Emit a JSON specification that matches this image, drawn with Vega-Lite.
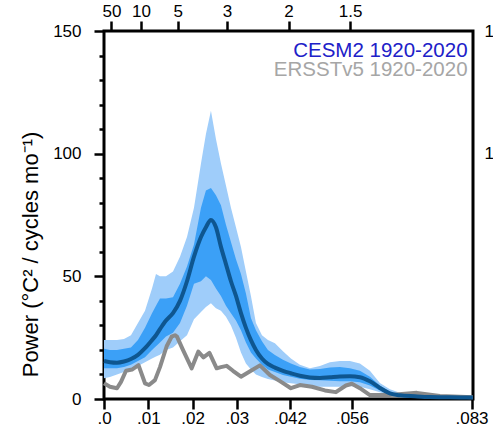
{
  "$schema": "https://vega.github.io/schema/vega-lite/v6.json",
  "width": 369,
  "height": 368,
  "autosize": {"type": "none"},
  "padding": {"left": 104, "top": 31, "right": 20, "bottom": 33},
  "config": {
    "view": {"stroke": "black", "strokeWidth": 3},
    "font": "Liberation Sans",
    "axis": {"domain": false, "grid": false, "tickColor": "black", "tickWidth": 2.5, "labelColor": "black", "labelFontSize": 17, "labelFont": "Liberation Sans", "labelFlush": false, "labelOverlap": false, "labelBound": false}
  },
  "datasets": {
    "cesm": [
      {"f": 0, "hi95": 24, "hi66": 20.5, "mean": 15.5, "lo66": 12.5, "lo95": 8.5},
      {"f": 0.00135, "hi95": 24, "hi66": 20, "mean": 15, "lo66": 12.5, "lo95": 9},
      {"f": 0.00293, "hi95": 24, "hi66": 20, "mean": 14.8, "lo66": 12.5, "lo95": 10},
      {"f": 0.00451, "hi95": 24.5, "hi66": 20.5, "mean": 15.3, "lo66": 13, "lo95": 11},
      {"f": 0.00609, "hi95": 26, "hi66": 21, "mean": 16.3, "lo66": 14, "lo95": 12},
      {"f": 0.00767, "hi95": 31, "hi66": 24, "mean": 18, "lo66": 15.5, "lo95": 13.5},
      {"f": 0.00926, "hi95": 36, "hi66": 29, "mean": 20.7, "lo66": 17, "lo95": 15},
      {"f": 0.01084, "hi95": 45, "hi66": 35, "mean": 24, "lo66": 20, "lo95": 16.5},
      {"f": 0.01174, "hi95": 51, "hi66": 38, "mean": 26, "lo66": 21.5, "lo95": 17.3},
      {"f": 0.01264, "hi95": 50, "hi66": 41, "mean": 28.5, "lo66": 23, "lo95": 18},
      {"f": 0.014, "hi95": 50, "hi66": 41, "mean": 32, "lo66": 25.5, "lo95": 20},
      {"f": 0.01558, "hi95": 52, "hi66": 41.5, "mean": 35, "lo66": 27, "lo95": 21},
      {"f": 0.01716, "hi95": 58, "hi66": 47, "mean": 40, "lo66": 31, "lo95": 23.5},
      {"f": 0.01874, "hi95": 66, "hi66": 54, "mean": 48, "lo66": 38, "lo95": 26},
      {"f": 0.02032, "hi95": 78, "hi66": 63, "mean": 58, "lo66": 47, "lo95": 32.5},
      {"f": 0.0219, "hi95": 96, "hi66": 78, "mean": 66, "lo66": 48, "lo95": 35.5},
      {"f": 0.02302, "hi95": 108, "hi66": 85, "mean": 70, "lo66": 50, "lo95": 37.5},
      {"f": 0.02415, "hi95": 117.5, "hi66": 86, "mean": 73, "lo66": 48.5, "lo95": 39},
      {"f": 0.02528, "hi95": 106, "hi66": 83, "mean": 70, "lo66": 45, "lo95": 37},
      {"f": 0.02641, "hi95": 96, "hi66": 79, "mean": 62, "lo66": 42, "lo95": 36},
      {"f": 0.02754, "hi95": 87, "hi66": 71, "mean": 55, "lo66": 38, "lo95": 33.5},
      {"f": 0.02867, "hi95": 78, "hi66": 64, "mean": 48, "lo66": 35, "lo95": 30},
      {"f": 0.0298, "hi95": 70, "hi66": 57, "mean": 42, "lo66": 32, "lo95": 25},
      {"f": 0.03093, "hi95": 62, "hi66": 51, "mean": 35, "lo66": 28, "lo95": 19},
      {"f": 0.03205, "hi95": 52, "hi66": 43, "mean": 29, "lo66": 23, "lo95": 14.5},
      {"f": 0.03318, "hi95": 42, "hi66": 33, "mean": 24, "lo66": 19, "lo95": 12},
      {"f": 0.03431, "hi95": 31, "hi66": 28, "mean": 20, "lo66": 16.5, "lo95": 10},
      {"f": 0.03567, "hi95": 26, "hi66": 23.5, "mean": 16.5, "lo66": 14, "lo95": 9},
      {"f": 0.03702, "hi95": 24, "hi66": 20, "mean": 14.3, "lo66": 12, "lo95": 8.2},
      {"f": 0.0386, "hi95": 22.7, "hi66": 17.9, "mean": 12.8, "lo66": 11, "lo95": 7.5},
      {"f": 0.04041, "hi95": 19.5, "hi66": 16, "mean": 11.5, "lo66": 9.8, "lo95": 6.8},
      {"f": 0.04221, "hi95": 16.5, "hi66": 14.5, "mean": 10.5, "lo66": 9.1, "lo95": 6.4},
      {"f": 0.04424, "hi95": 14, "hi66": 13, "mean": 9.5, "lo66": 8.3, "lo95": 6},
      {"f": 0.0465, "hi95": 12.5, "hi66": 12, "mean": 8.8, "lo66": 7.7, "lo95": 5.3},
      {"f": 0.04876, "hi95": 13.5, "hi66": 12.2, "mean": 8.6, "lo66": 7.6, "lo95": 5},
      {"f": 0.05102, "hi95": 15, "hi66": 12.8, "mean": 8.9, "lo66": 7.4, "lo95": 5},
      {"f": 0.05327, "hi95": 15.5, "hi66": 13, "mean": 9.2, "lo66": 7.2, "lo95": 5},
      {"f": 0.05553, "hi95": 15.5, "hi66": 12.5, "mean": 9.3, "lo66": 7.2, "lo95": 5.2},
      {"f": 0.05779, "hi95": 14.5, "hi66": 11.5, "mean": 8.9, "lo66": 6.8, "lo95": 5},
      {"f": 0.06005, "hi95": 11.5, "hi66": 9.1, "mean": 7.2, "lo66": 5.5, "lo95": 4},
      {"f": 0.0623, "hi95": 6.5, "hi66": 5.5, "mean": 4.5, "lo66": 3.5, "lo95": 2.8},
      {"f": 0.06456, "hi95": 4, "hi66": 3, "mean": 2.3, "lo66": 1.8, "lo95": 1.3},
      {"f": 0.06682, "hi95": 2.5, "hi66": 2, "mean": 1.5, "lo66": 1.1, "lo95": 0.8},
      {"f": 0.0702, "hi95": 1.8, "hi66": 1.4, "mean": 1.1, "lo66": 0.8, "lo95": 0.5},
      {"f": 0.07359, "hi95": 1.3, "hi66": 1.1, "mean": 0.8, "lo66": 0.6, "lo95": 0.4},
      {"f": 0.0781, "hi95": 1, "hi66": 0.9, "mean": 0.7, "lo66": 0.5, "lo95": 0.3},
      {"f": 0.0833, "hi95": 0.9, "hi66": 0.8, "mean": 0.6, "lo66": 0.4, "lo95": 0.2}
    ],
    "obs": [
      {"f": 0, "p": 6.4}, {"f": 0.00135, "p": 5}, {"f": 0.00293, "p": 4.4}, {"f": 0.00384, "p": 7},
      {"f": 0.00497, "p": 11.5}, {"f": 0.00632, "p": 12}, {"f": 0.00779, "p": 13.8}, {"f": 0.00926, "p": 6.4},
      {"f": 0.01016, "p": 5.7}, {"f": 0.01151, "p": 7.7}, {"f": 0.01264, "p": 13}, {"f": 0.01415, "p": 21.5},
      {"f": 0.01528, "p": 25.4}, {"f": 0.01603, "p": 26}, {"f": 0.01648, "p": 25.4}, {"f": 0.01783, "p": 20},
      {"f": 0.0198, "p": 12.5}, {"f": 0.02129, "p": 19.3}, {"f": 0.02246, "p": 17}, {"f": 0.02381, "p": 18.8},
      {"f": 0.02544, "p": 12.5}, {"f": 0.02641, "p": 13}, {"f": 0.0277, "p": 13.5}, {"f": 0.02912, "p": 11.5},
      {"f": 0.03093, "p": 9.1}, {"f": 0.03318, "p": 11.5}, {"f": 0.03521, "p": 13.7}, {"f": 0.03747, "p": 9.8},
      {"f": 0.03973, "p": 7.3}, {"f": 0.04221, "p": 4.4}, {"f": 0.04424, "p": 5.7}, {"f": 0.04695, "p": 5},
      {"f": 0.04989, "p": 3.5}, {"f": 0.05237, "p": 2.8}, {"f": 0.05463, "p": 5.5}, {"f": 0.05598, "p": 6.2},
      {"f": 0.05779, "p": 4.4}, {"f": 0.06005, "p": 1.6}, {"f": 0.06456, "p": 1.6}, {"f": 0.07065, "p": 2.5},
      {"f": 0.07585, "p": 1.2}, {"f": 0.0833, "p": 0.7}
    ]
  },
  "resolve": {"axis": {"x": "independent", "y": "independent"}},
  "layer": [
    {
      "data": {"name": "cesm"},
      "mark": {"type": "area", "color": "#9fcdfa", "opacity": 1},
      "encoding": {
        "x": {"field": "f", "type": "quantitative",
          "scale": {"domain": [0, 0.08333], "nice": false, "zero": false},
          "axis": {"orient": "bottom", "title": null, "values": [0, 0.01, 0.02, 0.03, 0.042, 0.056, 0.083],
            "labelExpr": "datum.value === 0 ? '.0' : replace(format(datum.value, '.3~f'), '0.', '.')",
            "tickSize": 10, "labelPadding": 1}},
        "y": {"field": "hi95", "type": "quantitative",
          "scale": {"domain": [0, 150], "nice": false},
          "axis": {"orient": "left", "values": [0, 10, 20, 30, 40, 50, 60, 70, 80, 90, 100, 110, 120, 130, 140, 150],
            "labelExpr": "datum.value % 50 === 0 ? datum.label : ''",
            "tickSize": {"condition": {"test": "datum.value % 50 === 0", "value": 10}, "value": 5},
            "labelPadding": 13,
            "title": "Power (°C² / cycles mo⁻¹)", "titleFontSize": 22, "titleFontWeight": "normal", "titleColor": "black",
            "titleFont": "Liberation Sans", "titleX": -74, "titleY": 223, "titleAngle": 270, "titleAlign": "center", "titleBaseline": "middle"}},
        "y2": {"field": "lo95"}
      }
    },
    {
      "data": {"name": "cesm"},
      "mark": {"type": "area", "color": "#3ba0f7", "opacity": 1},
      "encoding": {
        "x": {"field": "f", "type": "quantitative",
          "scale": {"domain": [0, 0.08333], "nice": false, "zero": false},
          "axis": {"orient": "top", "title": null, "values": [0.0016667, 0.0083333, 0.0166667, 0.0277778, 0.0416667, 0.0555556, 0.0833333],
            "labelExpr": "format(1/(12*datum.value), '.2~f')", "tickSize": 10, "labelPadding": 1}},
        "y": {"field": "hi66", "type": "quantitative",
          "scale": {"domain": [0, 150], "nice": false},
          "axis": {"orient": "right", "title": null, "values": [100, 150], "labelExpr": "'1'", "ticks": false, "labelPadding": 11}},
        "y2": {"field": "lo66"}
      }
    },
    {
      "data": {"name": "obs"},
      "mark": {"type": "line", "color": "#8a8a8a", "strokeWidth": 4, "strokeJoin": "round"},
      "encoding": {
        "x": {"field": "f", "type": "quantitative", "scale": {"domain": [0, 0.08333], "nice": false, "zero": false}, "axis": null},
        "y": {"field": "p", "type": "quantitative", "scale": {"domain": [0, 150], "nice": false}, "axis": null}
      }
    },
    {
      "data": {"name": "cesm"},
      "mark": {"type": "line", "color": "#0e5690", "strokeWidth": 4, "interpolate": "monotone"},
      "encoding": {
        "x": {"field": "f", "type": "quantitative", "scale": {"domain": [0, 0.08333], "nice": false, "zero": false}, "axis": null},
        "y": {"field": "mean", "type": "quantitative", "scale": {"domain": [0, 150], "nice": false}, "axis": null}
      }
    },
    {
      "data": {"values": [{"label": "CESM2 1920-2020"}]},
      "mark": {"type": "text", "align": "right", "baseline": "alphabetic", "fontSize": 20.5, "color": "#2020c8", "font": "Liberation Sans"},
      "encoding": {
        "x": {"datum": 0.0821, "type": "quantitative", "axis": null},
        "y": {"datum": 139.6, "type": "quantitative", "axis": null},
        "text": {"field": "label"}
      }
    },
    {
      "data": {"values": [{"label": "ERSSTv5 1920-2020"}]},
      "mark": {"type": "text", "align": "right", "baseline": "alphabetic", "fontSize": 20.5, "color": "#a6a6a6", "font": "Liberation Sans"},
      "encoding": {
        "x": {"datum": 0.0821, "type": "quantitative", "axis": null},
        "y": {"datum": 131.5, "type": "quantitative", "axis": null},
        "text": {"field": "label"}
      }
    }
  ]
}
